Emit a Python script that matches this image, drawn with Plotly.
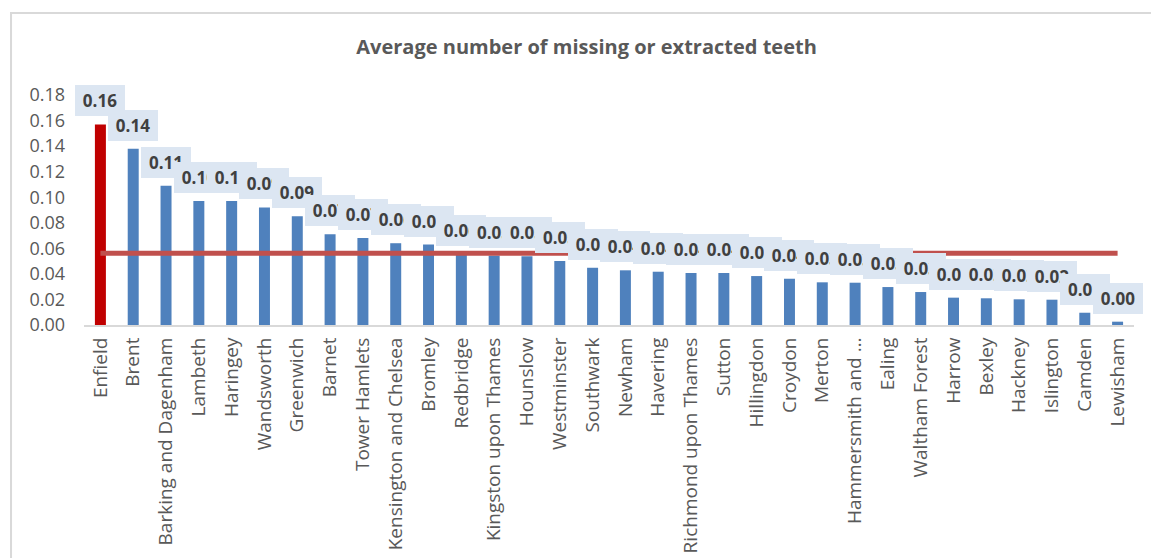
import plotly.graph_objects as go

boroughs = ["Enfield", "Brent", "Barking and Dagenham", "Lambeth", "Haringey", "Wandsworth",
            "Greenwich", "Barnet", "Tower Hamlets", "Kensington and Chelsea", "Bromley",
            "Redbridge", "Kingston upon Thames", "Hounslow", "Westminster", "Southwark",
            "Newham", "Havering", "Richmond upon Thames", "Sutton", "Hillingdon", "Croydon",
            "Merton", "Hammersmith and …", "Ealing", "Waltham Forest", "Harrow", "Bexley",
            "Hackney", "Islington", "Camden", "Lewisham"]
values = [0.157, 0.138, 0.109, 0.097, 0.097, 0.092, 0.0852, 0.071, 0.068, 0.064, 0.063,
          0.0556, 0.0543, 0.0538, 0.0501, 0.0448, 0.0428, 0.0417, 0.0407, 0.0407, 0.0383,
          0.0362, 0.0334, 0.0331, 0.0297, 0.0258, 0.0214, 0.0209, 0.0201, 0.0198, 0.0096,
          0.0026]
highlight = "Enfield"
london_average = 0.0561
y_ticks = [0.00, 0.02, 0.04, 0.06, 0.08, 0.10, 0.12, 0.14, 0.16, 0.18]

FONT = "Open Sans"
bar_colors = ["#C00000" if b == highlight else "#4F81BD" for b in boroughs]

fig = go.Figure()
fig.add_trace(go.Bar(x=boroughs, y=values, marker=dict(color=bar_colors, line=dict(width=0)),
                     showlegend=False, hoverinfo="x+y"))
fig.add_trace(go.Scatter(x=boroughs, y=[london_average] * len(boroughs), mode="lines",
                         line=dict(color="#C0504D", width=5), showlegend=False))

for b, v in zip(boroughs, values):
    fig.add_annotation(x=b, y=v, xref="x", yref="y", text=f"<b>{v:.2f}</b>",
                       showarrow=False, yanchor="bottom", yshift=8,
                       width=50, height=31, bgcolor="#DCE6F2", borderpad=0, borderwidth=0,
                       font=dict(family=FONT, size=17, color="#404040"))

# chart border (left and top edges visible)
fig.add_shape(type="rect", xref="paper", yref="paper", x0=-0.0695, x1=1.2, y0=-1.5, y1=1.3565,
              line=dict(color="#D9D9D9", width=2), layer="below")

fig.update_layout(
    width=1151, height=558,
    margin=dict(l=84, r=17, t=95, b=233, autoexpand=False),
    plot_bgcolor="white", paper_bgcolor="white",
    bargap=0.665,
    title=dict(text="<b>Average number of missing or extracted teeth</b>",
               x=0.5096, xref="container", xanchor="center",
               y=1 - 47 / 558, yref="container", yanchor="middle",
               font=dict(family=FONT, size=20, color="#595959")),
    xaxis=dict(tickangle=-90, tickfont=dict(family=FONT, size=19, color="#595959"),
               range=[-0.5, len(boroughs) - 0.5], autorange=False,
               showline=True, linecolor="#D9D9D9", linewidth=2, ticks="", showgrid=False,
               ticklabelstandoff=3, automargin=False),
    yaxis=dict(range=[0, 0.18], tickvals=y_ticks, tickformat=".2f", showgrid=False,
               zeroline=False, showline=False, ticks="", ticklabelstandoff=18,
               automargin=False,
               tickfont=dict(family=FONT, size=18, color="#595959")),
)

fig.write_html("out.html")
